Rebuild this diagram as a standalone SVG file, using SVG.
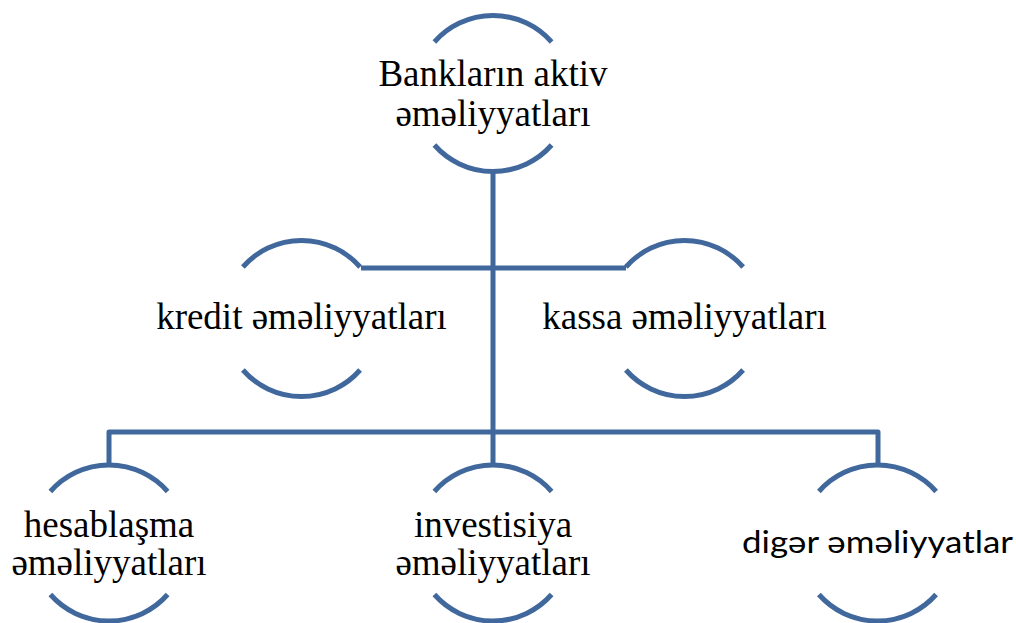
<svg xmlns="http://www.w3.org/2000/svg" width="1016" height="623" viewBox="0 0 1016 623">
  <defs>
    <style>
      .arc { fill: none; stroke: #41689C; stroke-width: 5; stroke-linecap: butt; }
      .conn { fill: none; stroke: #41689C; stroke-width: 5; stroke-linejoin: round; stroke-linecap: butt; }
      .serif { font-family: "Liberation Serif", "DejaVu Serif", "Times New Roman", serif; font-size: 37px; fill: #000; text-anchor: middle; }
      .sans { font-family: Lato, "Liberation Sans", sans-serif; font-size: 31px; fill: #000; text-anchor: middle; }
    </style>
    <path id="nodeArcs" d="M -58.6 -51.5 A 78 78 0 0 1 58.6 -51.5 M -58.6 51.5 A 78 78 0 0 0 58.6 51.5"/>
  </defs>
  <rect width="1016" height="623" fill="#ffffff"/>

  <g id="connectors">
    <path class="conn" d="M 493 171 V 466"/>
    <path class="conn" d="M 361 268 H 626"/>
    <path class="conn" d="M 109 466 V 432 H 878 V 466"/>
  </g>

  <g id="node-top" transform="translate(493,93.5)">
    <use href="#nodeArcs" class="arc"/>
    <text class="serif" x="0" y="-8">Bankların aktiv</text>
    <text class="serif" x="0" y="32">əməliyyatları</text>
  </g>

  <g id="node-kredit" transform="translate(301.5,318.5)">
    <use href="#nodeArcs" class="arc"/>
    <text class="serif" x="0" y="10">kredit əməliyyatları</text>
  </g>

  <g id="node-kassa" transform="translate(684.5,318.5)">
    <use href="#nodeArcs" class="arc"/>
    <text class="serif" x="0" y="10">kassa əməliyyatları</text>
  </g>

  <g id="node-hesablasma" transform="translate(109,543)">
    <use href="#nodeArcs" class="arc"/>
    <text class="serif" x="0" y="-6.5">hesablaşma</text>
    <text class="serif" x="0" y="32">əməliyyatları</text>
  </g>

  <g id="node-investisiya" transform="translate(493,543)">
    <use href="#nodeArcs" class="arc"/>
    <text class="serif" x="0" y="-6.5">investisiya</text>
    <text class="serif" x="0" y="32">əməliyyatları</text>
  </g>

  <g id="node-diger" transform="translate(877.5,543)">
    <use href="#nodeArcs" class="arc"/>
    <text class="sans" x="0" y="10" textLength="271" lengthAdjust="spacingAndGlyphs">digər əməliyyatlar</text>
  </g>
</svg>
